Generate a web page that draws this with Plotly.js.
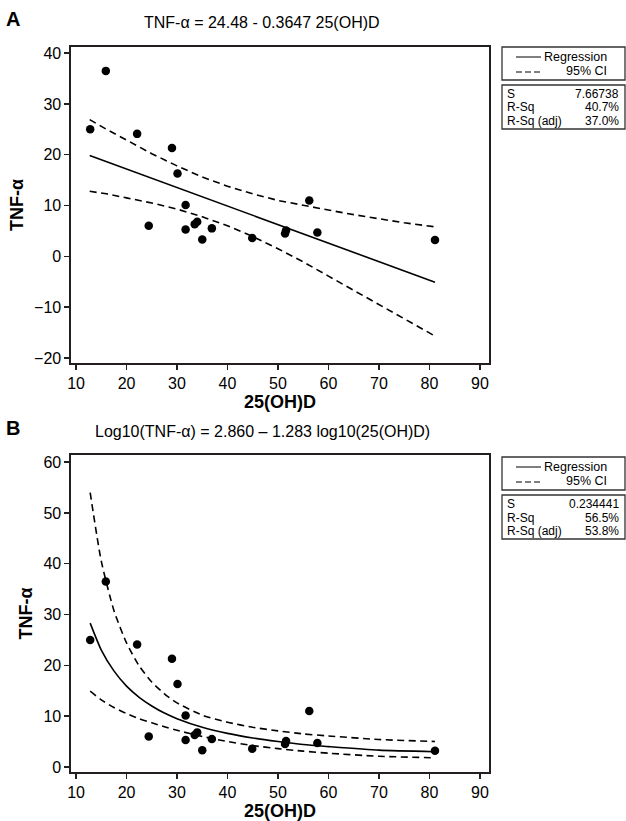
<!DOCTYPE html>
<html>
<head>
<meta charset="utf-8">
<script src="https://cdn.plot.ly/plotly-3.0.1.min.js"></script>
<style>html,body{margin:0;padding:0;background:#fff;}#chart{width:626px;height:821px;}</style>
</head>
<body>
<div id="chart"></div>
<script>
const vitD = [12.8, 15.9, 22.1, 24.4, 29.0, 30.1, 31.7, 31.7, 33.5, 34.0, 35.0, 36.9, 44.9, 51.4, 51.6, 56.2, 57.8, 81.1];
const tnf  = [25.0, 36.5, 24.1, 6.0, 21.3, 16.3, 10.1, 5.3, 6.3, 6.8, 3.3, 5.5, 3.6, 4.5, 5.1, 11.0, 4.7, 3.2];

// Panel A: linear regression line and 95% CI
const fitAx = [12.7, 81.1];
const fitAy = [19.85, -5.1];
const ciAx = [12.7, 16, 20, 25, 30, 35, 40, 45, 50, 55, 60, 65, 70, 75, 81.1];
const ciAupper = [26.9, 25.0, 22.9, 20.2, 17.8, 15.6, 13.8, 12.3, 11.0, 10.0, 9.1, 8.2, 7.4, 6.6, 5.8];
const ciAlower = [12.8, 12.3, 11.5, 10.5, 9.3, 7.8, 6.0, 3.9, 1.5, -1.1, -3.9, -6.7, -9.5, -12.4, -15.7];

// Panel B: log-log regression curve and 95% CI
const curveBx = [12.8, 15, 17.5, 20, 22.5, 25, 27.5, 30, 35, 40, 45, 50, 55, 60, 70, 81.1];
const fitBy   = [28.3, 23.0, 18.9, 15.9, 13.7, 12.0, 10.6, 9.5, 7.8, 6.6, 5.7, 5.0, 4.4, 4.0, 3.3, 3.0];
const ciBupper = [54.0, 40.5, 30.8, 24.4, 19.9, 16.7, 14.4, 12.6, 10.2, 8.8, 7.8, 7.1, 6.5, 6.1, 5.4, 5.0];
const ciBlower = [14.9, 13.2, 11.7, 10.5, 9.5, 8.7, 7.9, 7.2, 6.0, 5.0, 4.2, 3.6, 3.1, 2.7, 2.1, 1.8];

// Text
const titleA = "TNF-α = 24.48 - 0.3647 25(OH)D";
const titleB = "Log10(TNF-α) = 2.860 – 1.283 log10(25(OH)D)";
const xTitle = "25(OH)D";
const yTitle = "TNF-α";
const statsA = {S: "7.66738", RSq: "40.7%", RSqAdj: "37.0%"};
const statsB = {S: "0.234441", RSq: "56.5%", RSqAdj: "53.8%"};
const xTicks = [10, 20, 30, 40, 50, 60, 70, 80, 90];
const yTicksA = [-20, -10, 0, 10, 20, 30, 40];
const yTicksB = [0, 10, 20, 30, 40, 50, 60];

// ---- layout geometry (pixels) ----
const W = 626, H = 821;
const L = 71, R = 489, T = 47, B = 772;
const px = v => (v - L) / (R - L);
const py = v => (B - v) / (B - T);

const FONT = "Liberation Sans, Arial, sans-serif";
const black = "#000";
const lineCol = "#231f20";

const dash = "7px,4.5px";

const traces = [
  {x: ciAx, y: ciAupper, xaxis: "x", yaxis: "y", mode: "lines", line: {color: black, width: 1.6, dash: dash}, hoverinfo: "skip"},
  {x: ciAx, y: ciAlower, xaxis: "x", yaxis: "y", mode: "lines", line: {color: black, width: 1.6, dash: dash}, hoverinfo: "skip"},
  {x: fitAx, y: fitAy, xaxis: "x", yaxis: "y", mode: "lines", line: {color: black, width: 1.6}},
  {x: vitD, y: tnf, xaxis: "x", yaxis: "y", mode: "markers", marker: {color: black, size: 8.5}},
  {x: curveBx, y: ciBupper, xaxis: "x2", yaxis: "y2", mode: "lines", line: {color: black, width: 1.6, dash: dash, shape: "spline", smoothing: 0.6}},
  {x: curveBx, y: ciBlower, xaxis: "x2", yaxis: "y2", mode: "lines", line: {color: black, width: 1.6, dash: dash, shape: "spline", smoothing: 0.6}},
  {x: curveBx, y: fitBy, xaxis: "x2", yaxis: "y2", mode: "lines", line: {color: black, width: 1.6, shape: "spline", smoothing: 0.6}},
  {x: vitD, y: tnf, xaxis: "x2", yaxis: "y2", mode: "markers", marker: {color: black, size: 8.5}}
];

function xAxis(anchor) {
  return {
    anchor: anchor, domain: [0, 1], range: [9.0, 91.8], tickvals: xTicks, ticktext: xTicks.map(String),
    showgrid: false, zeroline: false, showline: true, mirror: true, linecolor: lineCol, linewidth: 1.6,
    ticks: "outside", ticklen: 5, tickwidth: 1.3, tickcolor: lineCol,
    tickfont: {family: FONT, size: 16, color: black},
    title: {text: "<b>" + xTitle + "</b>", font: {family: FONT, size: 18, color: black}, standoff: 4}
  };
}
function yAxis(anchor, domain, range, ticks) {
  return {
    anchor: anchor, domain: domain, range: range, tickvals: ticks,
    showgrid: false, zeroline: false, showline: true, mirror: true, linecolor: lineCol, linewidth: 1.6,
    ticks: "outside", ticklen: 5, tickwidth: 1.3, tickcolor: lineCol,
    tickfont: {family: FONT, size: 16, color: black},
    title: {text: "<b>" + yTitle + "</b>", font: {family: FONT, size: 18, color: black}, standoff: 6}
  };
}

const shapes = [];
const annotations = [];

function legendBlock(top, stats) {
  const x0 = 502, x1 = 625;
  // box 1
  shapes.push({type: "rect", xref: "paper", yref: "paper", x0: px(x0), x1: px(x1), y0: py(top), y1: py(top + 33), line: {color: "#333", width: 1.3}, fillcolor: "rgba(0,0,0,0)"});
  shapes.push({type: "line", xref: "paper", yref: "paper", x0: px(516), x1: px(541), y0: py(top + 10), y1: py(top + 10), line: {color: black, width: 1}});
  shapes.push({type: "line", xref: "paper", yref: "paper", x0: px(516), x1: px(541), y0: py(top + 25), y1: py(top + 25), line: {color: black, width: 1, dash: "6px,3px"}});
  annotations.push({xref: "paper", yref: "paper", x: px(609), y: py(top + 10), xanchor: "right", yanchor: "middle", text: "Regression", showarrow: false, font: {family: FONT, size: 12.5, color: black}});
  annotations.push({xref: "paper", yref: "paper", x: px(609), y: py(top + 24), xanchor: "right", yanchor: "middle", text: "95% CI", showarrow: false, font: {family: FONT, size: 12.5, color: black}});
  // box 2
  const t2 = top + 38;
  shapes.push({type: "rect", xref: "paper", yref: "paper", x0: px(x0), x1: px(x1), y0: py(t2), y1: py(t2 + 44), line: {color: "#333", width: 1.3}, fillcolor: "rgba(0,0,0,0)"});
  const rows = [["S", stats.S], ["R-Sq", stats.RSq], ["R-Sq (adj)", stats.RSqAdj]];
  rows.forEach((r, i) => {
    const yy = t2 + 9 + i * 13.5;
    annotations.push({xref: "paper", yref: "paper", x: px(505), y: py(yy), xanchor: "left", yanchor: "middle", text: r[0], showarrow: false, font: {family: FONT, size: 12, color: black}});
    annotations.push({xref: "paper", yref: "paper", x: px(621), y: py(yy), xanchor: "right", yanchor: "middle", text: r[1], showarrow: false, font: {family: FONT, size: 12, color: black}});
  });
}
legendBlock(47, statsA);
legendBlock(457, statsB);

// panel titles and letters
annotations.push({xref: "paper", yref: "paper", x: px(262), y: py(23), xanchor: "center", yanchor: "middle", text: titleA, showarrow: false, font: {family: FONT, size: 16, color: black}});
annotations.push({xref: "paper", yref: "paper", x: px(262), y: py(431), xanchor: "center", yanchor: "middle", text: titleB, showarrow: false, font: {family: FONT, size: 16, color: black}});
annotations.push({xref: "paper", yref: "paper", x: px(4), y: py(19), xanchor: "left", yanchor: "middle", text: "<b>A</b>", showarrow: false, font: {family: FONT, size: 20, color: black}});
annotations.push({xref: "paper", yref: "paper", x: px(4), y: py(428), xanchor: "left", yanchor: "middle", text: "<b>B</b>", showarrow: false, font: {family: FONT, size: 20, color: black}});

const layout = {
  width: W, height: H,
  margin: {l: L, r: W - R, t: T, b: H - B, pad: 0},
  paper_bgcolor: "#fff", plot_bgcolor: "#fff",
  showlegend: false,
  xaxis: xAxis("y"),
  yaxis: yAxis("x", [py(363), 1], [-21.0, 41.2], yTicksA),
  xaxis2: xAxis("y2"),
  yaxis2: yAxis("x2", [0, py(455)], [-1.0, 61.4], yTicksB),
  shapes: shapes,
  annotations: annotations
};

Plotly.newPlot("chart", traces, layout, {displayModeBar: false, staticPlot: true});
</script>
</body>
</html>
